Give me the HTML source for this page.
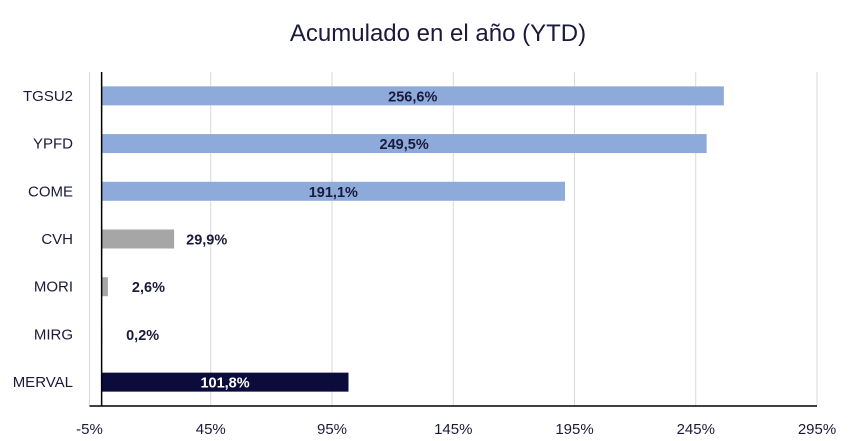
<!DOCTYPE html>
<html><head><meta charset="utf-8"><style>
html,body{margin:0;padding:0;background:#fff;}
svg{display:block;font-family:"Liberation Sans",sans-serif;}
</style></head><body>
<svg id="chart" width="850" height="441">
<text x="438" y="41" text-anchor="middle" font-size="24" fill="#1a1a3a">Acumulado en el año (YTD)</text>
<g id="grid"></g><g id="bars"></g><g id="labels"></g><g id="axes"></g>
</svg>
<script>
const categories=["TGSU2","YPFD","COME","CVH","MORI","MIRG","MERVAL"];
const values=[256.6,249.5,191.1,29.9,2.6,0.2,101.8];
const valueLabels=["256,6%","249,5%","191,1%","29,9%","2,6%","0,2%","101,8%"];
const barColors=["#8eaadb","#8eaadb","#8eaadb","#a6a6a6","#a6a6a6","#a6a6a6","#0c0c3c"];
const ticks=[-5,45,95,145,195,245,295];
const tickLabels=["-5%","45%","95%","145%","195%","245%","295%"];
const NS="http://www.w3.org/2000/svg";
const x0=89.5,xs=2.425,plotTop=72,plotBottom=406,band=(plotBottom-plotTop)/categories.length,bh=19;
const X=v=>x0+(v+5)*xs;
const Y=i=>plotTop+band*i+band/2;
function mk(t,a,p){const e=document.createElementNS(NS,t);for(const k in a)e.setAttribute(k,a[k]);document.getElementById(p).appendChild(e);return e;}
ticks.forEach((t,i)=>{
 const g=mk("line",{x1:X(t),x2:X(t),y1:plotTop,y2:plotBottom,stroke:"#d9d9d9","stroke-width":1},"grid");
 
 
 const l=mk("text",{x:X(t),y:434,"text-anchor":"middle","font-size":15,fill:"#1a1a3a"},"axes");
 l.textContent=tickLabels[i];
 
 
});
categories.forEach((c,i)=>{
 const v=values[i];
 const r=mk("rect",{x:X(0),y:Y(i)-bh/2,width:Math.max(0,X(v)-X(0)),height:bh,fill:barColors[i]},"bars");
 
 
 const cl=mk("text",{x:73,y:Y(i)+5,"text-anchor":"end","font-size":15,fill:"#1a1a3a"},"labels");
 cl.textContent=c;
 
 
 const inside=v>60;
 const vl=mk("text",{x:inside?(X(0)+X(v))/2:X(v)+12,y:Y(i)+5.5,"text-anchor":inside?"middle":"start","font-size":14.5,"font-weight":"bold",fill:i===6?"#ffffff":"#1a1a3a"},"labels");
 if(!inside&&v<5)vl.setAttribute("x",X(v)+24);
 vl.textContent=valueLabels[i];
 
 
});
const ya=mk("line",{x1:X(0),x2:X(0),y1:plotTop,y2:plotBottom,stroke:"#000","stroke-width":1.5},"axes");


const xa=mk("line",{x1:X(-5),x2:X(295),y1:plotBottom,y2:plotBottom,stroke:"#000","stroke-width":1.5},"axes");


</script>
</body></html>
